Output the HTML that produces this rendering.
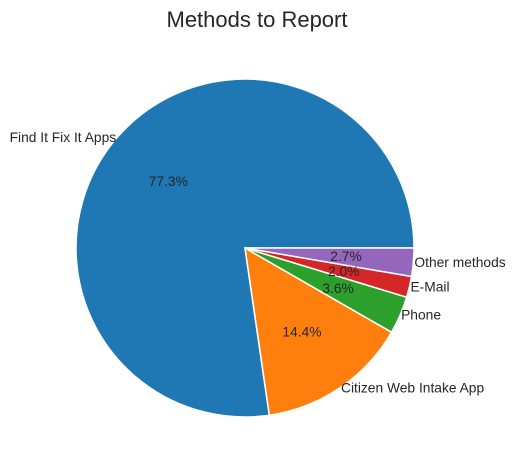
<!DOCTYPE html>
<html><head><meta charset="utf-8"><style>
body{margin:0;background:#fff;}
svg{display:block;font-family:"Liberation Sans","DejaVu Sans",sans-serif;}
</style></head><body>
<svg id="chart" width="515" height="470">
<text x="257" y="27" text-anchor="middle" font-size="22" fill="#262626">Methods to Report</text>
<g id="slices"></g><g id="labels"></g>
</svg>
<script>
const categories=["Find It Fix It Apps","Citizen Web Intake App","Phone","E-Mail","Other methods"];
const values=[77.3,14.4,3.6,2.0,2.7];
const colors=["#1f77b4","#ff7f0e","#2ca02c","#d62728","#9467bd"];
const cx=245,cy=248,r=169;
const ns="http://www.w3.org/2000/svg";
const total=values.reduce((a,b)=>a+b,0);
const gs=document.getElementById('slices'),gl=document.getElementById('labels');
function pt(a,d){return [cx+d*Math.cos(a),cy-d*Math.sin(a)];}
let start=0;
values.forEach((v,i)=>{
  const sweep=v/total*2*Math.PI,end=start+sweep;
  const [x1,y1]=pt(start,r),[x2,y2]=pt(end,r);
  const p=document.createElementNS(ns,'path');
  p.setAttribute('d',`M${cx},${cy}L${x1},${y1}A${r},${r} 0 ${sweep>Math.PI?1:0} 0 ${x2},${y2}Z`);
  p.setAttribute('fill',colors[i]);p.setAttribute('stroke','#fff');p.setAttribute('stroke-width','1.5');
  
  
  gs.appendChild(p);
  const mid=start+sweep/2;
  const [lx,ly]=pt(mid,r*1.0);
  const t=document.createElementNS(ns,'text');
  t.setAttribute('x',lx+(Math.cos(mid)<0?-1:1));t.setAttribute('y',ly+4.5);
  t.setAttribute('text-anchor',Math.cos(mid)<0?'end':'start');
  t.setAttribute('font-size','13.8');t.setAttribute('fill','#262626');
  t.textContent=categories[i];
  
  
  gl.appendChild(t);
  const [px,py]=pt(mid,r*0.6);
  const q=document.createElementNS(ns,'text');
  q.setAttribute('x',px);q.setAttribute('y',py+4.5);q.setAttribute('text-anchor','middle');
  q.setAttribute('font-size','13.8');q.setAttribute('fill','#262626');
  q.textContent=v.toFixed(1)+'%';
  
  
  gl.appendChild(q);
  start=end;
});
</script>
</body></html>
